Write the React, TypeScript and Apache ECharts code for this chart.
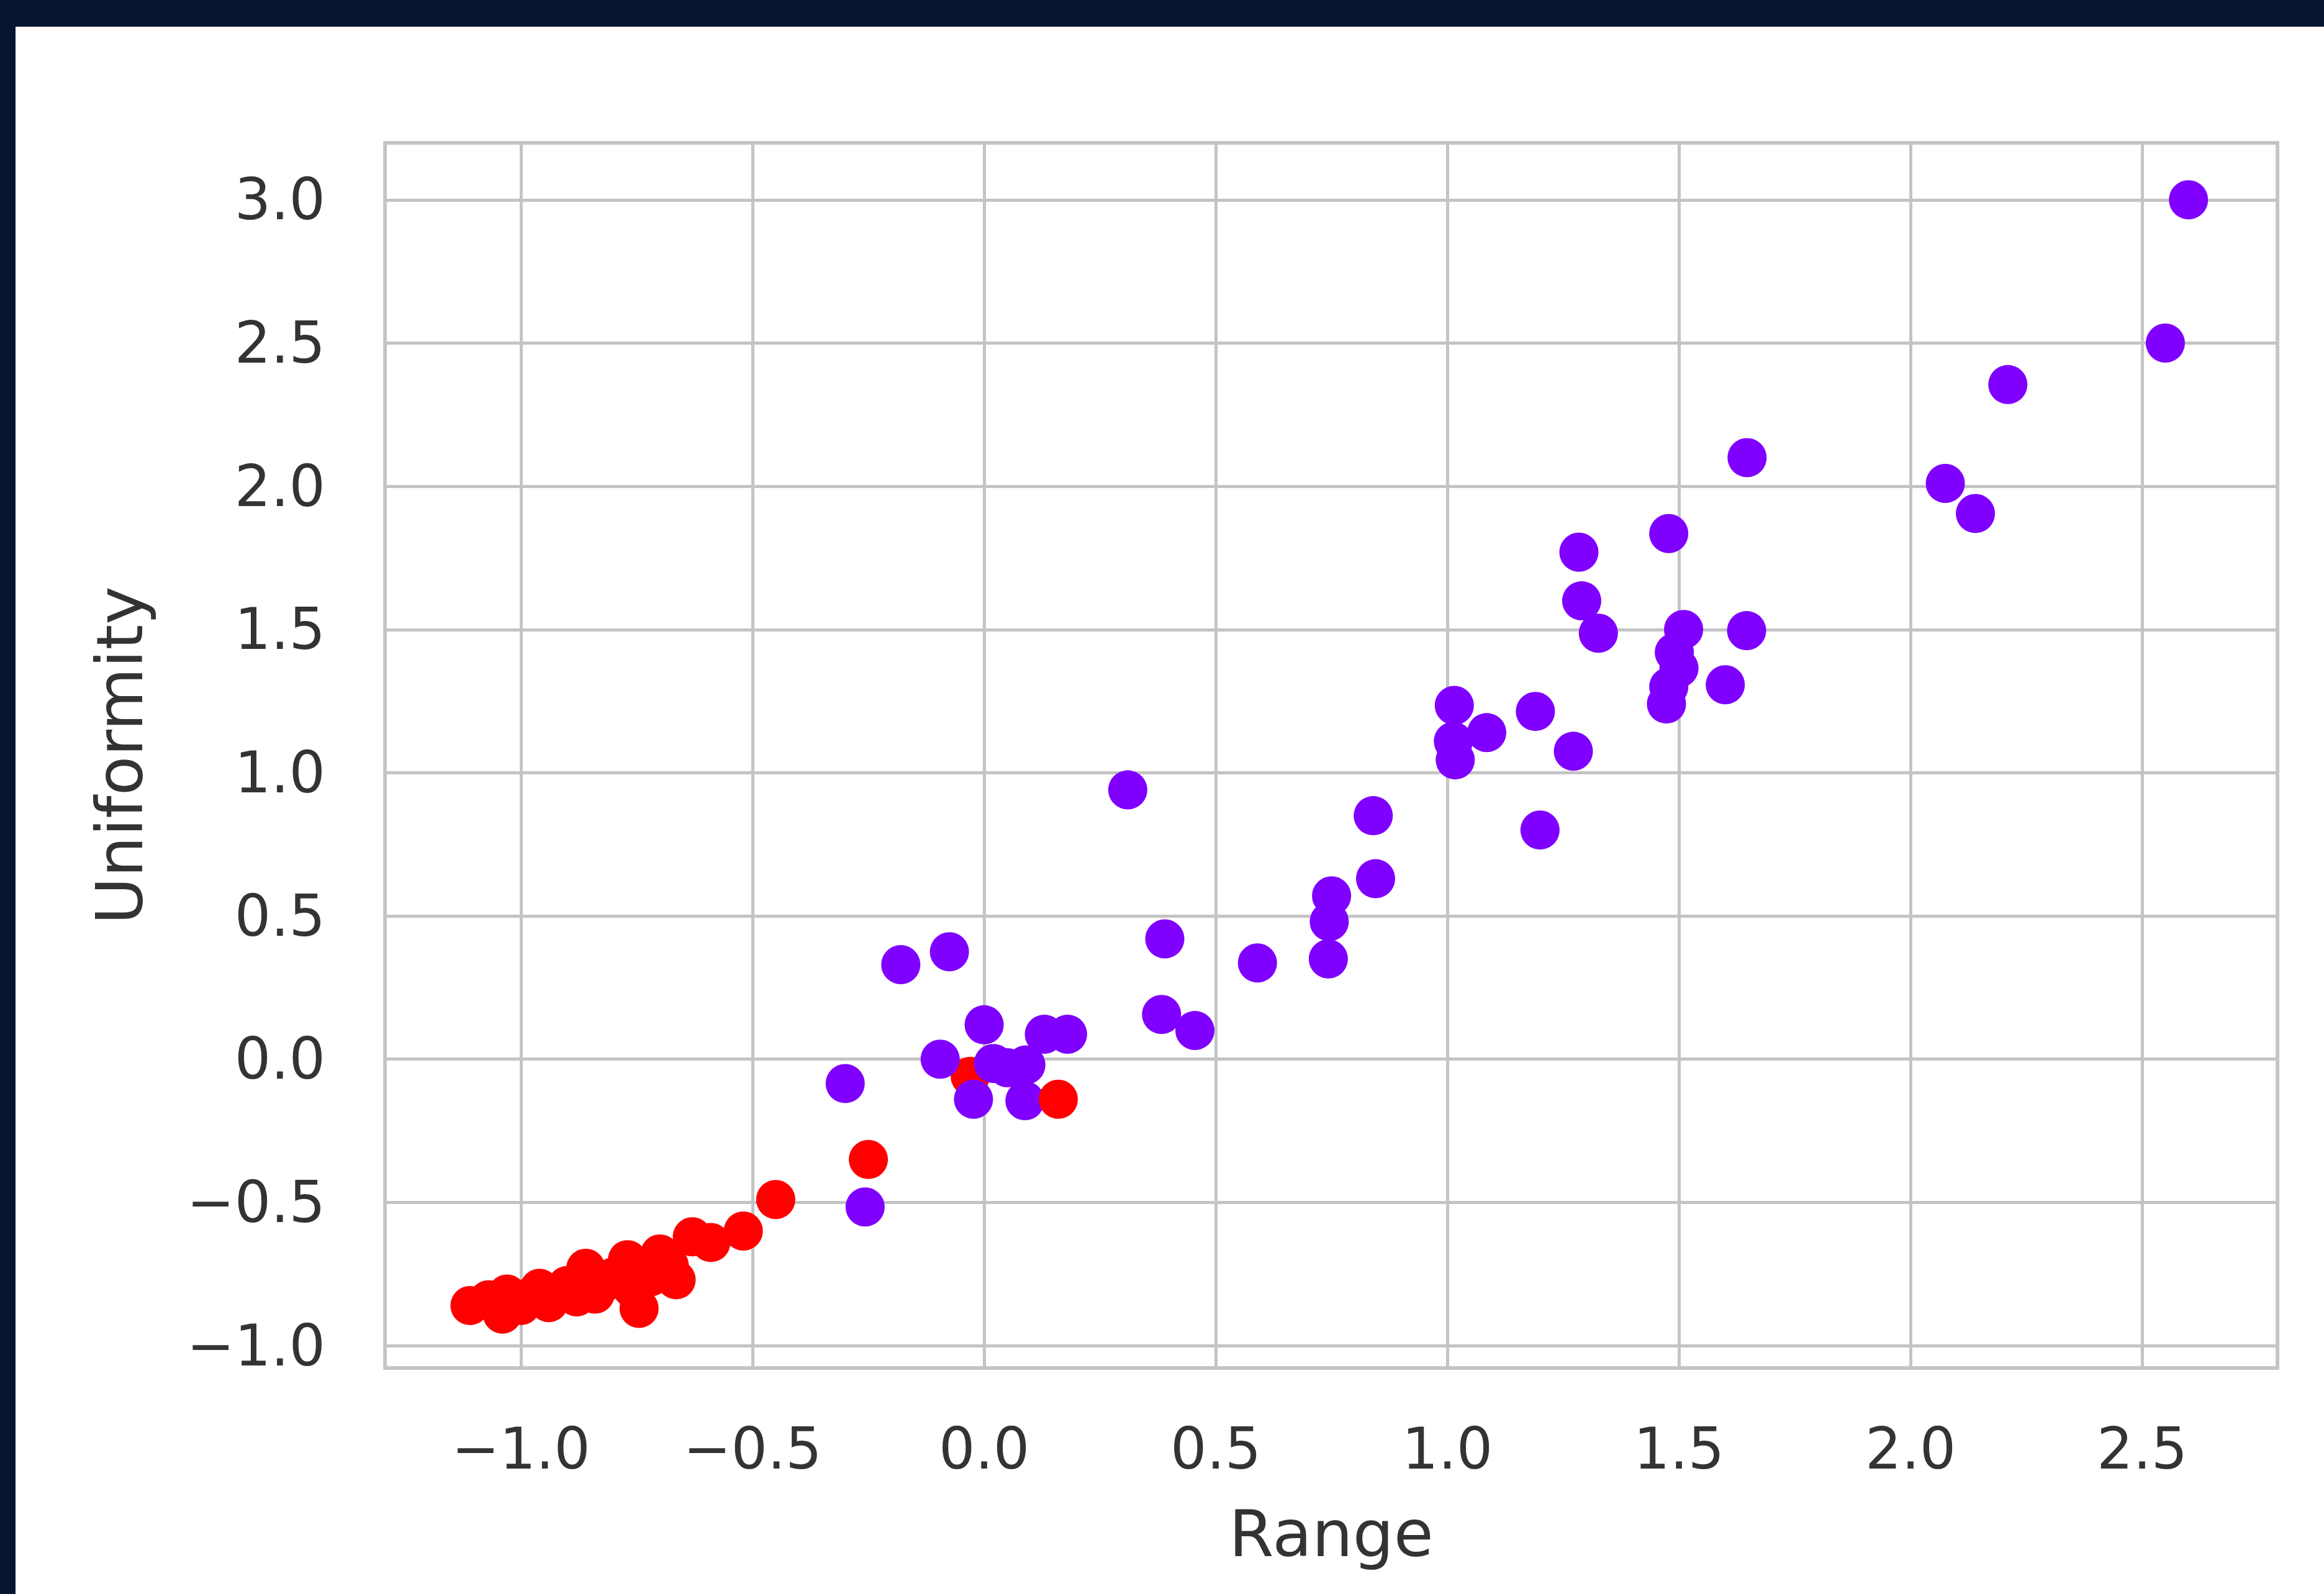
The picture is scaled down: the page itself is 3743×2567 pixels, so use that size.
import React, { useEffect, useRef } from "react";
import * as echarts from "echarts";

// Scatter points in drawing order (matplotlib draws in data order)
const rangeVals = [
  -0.03,
  2.6, 2.55, 2.21, 2.075, 2.14, 1.647, 1.478, 1.284, 1.29, 1.326, 1.51, 1.646, 1.49, 1.5, 1.478, 1.473, 1.6,
  1.19, 1.272, 1.015, 1.085, 1.013, 1.017, 1.2, 0.84, 0.845, 0.75, 0.745, 0.743, 0.59, 0.31, 0.39, 0.383, 0.455,
  -0.18, -0.075, 0.0, -0.095, 0.02, 0.05, 0.09, 0.13, 0.18, -0.023, 0.088, -0.3, -0.257,
  0.16, -0.25, -0.45, -0.52, -0.59, -0.63, -0.665, -0.7, -0.72, -0.745, -0.76, -0.77, -0.8, -0.84, -0.86, -0.9,
  -0.94, -0.98, -1.03, -1.04, -1.07, -1.11, -0.82, -0.68, -0.96, -1.0, -0.88,
];
const uniformityVals = [
  -0.06,
  3.0, 2.5, 2.355, 2.01, 1.905, 2.1, 1.835, 1.77, 1.6, 1.487, 1.5, 1.496, 1.42, 1.365, 1.3, 1.24, 1.307,
  1.214, 1.075, 1.235, 1.14, 1.11, 1.045, 0.8, 0.85, 0.63, 0.57, 0.48, 0.35, 0.336, 0.94, 0.42, 0.156, 0.1,
  0.33, 0.375, 0.12, 0.0, -0.015, -0.03, -0.02, 0.087, 0.087, -0.14, -0.145, -0.085, -0.516,
  -0.14, -0.35, -0.49, -0.6, -0.64, -0.62, -0.77, -0.68, -0.76, -0.87, -0.8, -0.7, -0.76, -0.82, -0.73, -0.79,
  -0.85, -0.83, -0.82, -0.89, -0.84, -0.86, -0.78, -0.72, -0.8, -0.86, -0.83,
];
const clusterVals = [
  1,
  0, 0, 0, 0, 0, 0, 0, 0, 0, 0, 0, 0, 0, 0, 0, 0, 0,
  0, 0, 0, 0, 0, 0, 0, 0, 0, 0, 0, 0, 0, 0, 0, 0, 0,
  0, 0, 0, 0, 0, 0, 0, 0, 0, 0, 0, 0, 0,
  1, 1, 1, 1, 1, 1, 1, 1, 1, 1, 1, 1, 1, 1, 1, 1,
  1, 1, 1, 1, 1, 1, 1, 1, 1, 1, 1,
];
const clusterColors = ["#8000ff", "#ff0000"];

const xTickLabels = [-1.0, -0.5, 0.0, 0.5, 1.0, 1.5, 2.0, 2.5];
const yTickLabels = [-1.0, -0.5, 0.0, 0.5, 1.0, 1.5, 2.0, 2.5, 3.0];

const X_MIN = -1.2936;
const X_MAX = 2.792;
const Y_MIN = -1.078;
const Y_MAX = 3.199;

const TEXT = "#333333";
const FONT = "DejaVu Sans";

function makeFormatter(ticks: number[]) {
  return (v: number) => {
    const hit = ticks.find((t) => Math.abs(t - v) < 1e-6);
    if (hit === undefined) return "";
    const val = Math.abs(hit) < 1e-9 ? 0 : hit;
    return val.toFixed(1).replace("-", "\u2212");
  };
}

export default function App() {
  const ref = useRef<HTMLDivElement>(null);

  useEffect(() => {
    if (!ref.current) return;
    const chart = echarts.init(ref.current, null, { renderer: "svg" });
    const data = rangeVals.map((x, i) => ({
      value: [x, uniformityVals[i]],
      itemStyle: { color: clusterColors[clusterVals[i]] },
    }));
    chart.setOption({
      animation: false,
      backgroundColor: "#ffffff",
      grid: {
        left: 595,
        top: 187,
        width: 3048,
        height: 1973,
        show: true,
        borderColor: "#cccccc",
        borderWidth: 6,
        backgroundColor: "transparent",
      },
      xAxis: {
        type: "value",
        min: X_MIN,
        max: X_MAX,
        splitNumber: 8,
        axisLine: { show: false },
        axisTick: { show: false },
        splitLine: { show: true, lineStyle: { color: "#c4c4c4", width: 5 } },
        axisLabel: {
          show: true,
          showMinLabel: true,
          showMaxLabel: true,
          fontSize: 92,
          fontFamily: FONT,
          color: TEXT,
          margin: 84,
          formatter: makeFormatter(xTickLabels),
        },
        name: "Range",
        nameLocation: "middle",
        nameGap: 215,
        nameTextStyle: { fontSize: 104, fontFamily: FONT, color: TEXT },
      },
      yAxis: {
        type: "value",
        min: Y_MIN,
        max: Y_MAX,
        splitNumber: 8,
        axisLine: { show: false },
        axisTick: { show: false },
        splitLine: { show: true, lineStyle: { color: "#c4c4c4", width: 5 } },
        axisLabel: {
          show: true,
          showMinLabel: true,
          showMaxLabel: true,
          fontSize: 92,
          fontFamily: FONT,
          color: TEXT,
          margin: 96,
          formatter: makeFormatter(yTickLabels),
        },
        name: "Uniformity",
        nameLocation: "middle",
        nameGap: 375,
        nameRotate: 90,
        nameTextStyle: { fontSize: 104, fontFamily: FONT, color: TEXT },
      },
      series: [
        {
          type: "scatter",
          symbol: "circle",
          symbolSize: 63,
          data,
          itemStyle: { opacity: 1 },
          emphasis: { disabled: true },
        },
      ],
    });
    return () => chart.dispose();
  }, []);

  return (
    <div
      style={{
        position: "fixed",
        left: 0,
        top: 0,
        width: 3743,
        height: 2567,
        background: "#061630",
        overflow: "hidden",
      }}
    >
      <div
        style={{
          position: "absolute",
          left: 25,
          top: 43,
          width: 3718,
          height: 2524,
          background: "#ffffff",
        }}
      >
        <div ref={ref} style={{ width: 3718, height: 2524 }} />
      </div>
    </div>
  );
}
